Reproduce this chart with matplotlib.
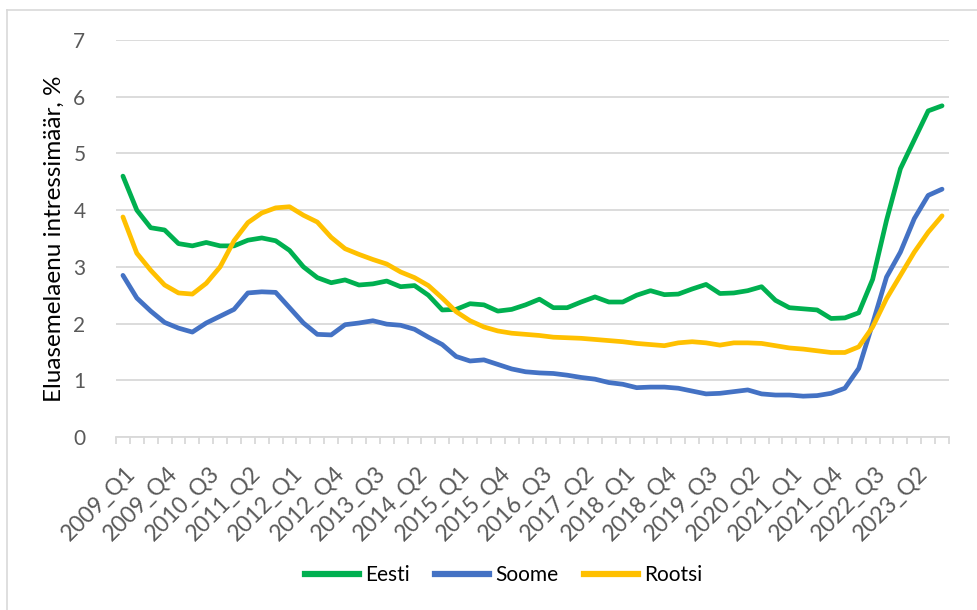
import matplotlib
matplotlib.use("Agg")
import matplotlib.pyplot as plt
from matplotlib.lines import Line2D
from matplotlib.transforms import ScaledTranslation
import numpy as np

years = list(range(2009, 2024))
quarters = ["Q1", "Q2", "Q3", "Q4"]
categories = [f"{y}_{q}" for y in years for q in quarters]

eesti = [4.60, 4.00, 3.69, 3.65, 3.41, 3.37, 3.43, 3.37, 3.37, 3.47,
         3.51, 3.46, 3.29, 3.00, 2.81, 2.72, 2.77, 2.68, 2.70, 2.75,
         2.65, 2.67, 2.50, 2.24, 2.25, 2.35, 2.33, 2.22, 2.25, 2.33,
         2.43, 2.28, 2.28, 2.38, 2.47, 2.38, 2.38, 2.50, 2.58, 2.51,
         2.52, 2.61, 2.69, 2.53, 2.54, 2.58, 2.65, 2.41, 2.28, 2.26,
         2.24, 2.09, 2.10, 2.19, 2.78, 3.82, 4.73, 5.24, 5.75, 5.84]
soome = [2.85, 2.45, 2.22, 2.02, 1.92, 1.85, 2.01, 2.13, 2.25, 2.54,
         2.56, 2.55, 2.28, 2.01, 1.81, 1.80, 1.98, 2.01, 2.05, 1.99,
         1.97, 1.90, 1.76, 1.63, 1.42, 1.34, 1.36, 1.28, 1.20, 1.15,
         1.13, 1.12, 1.09, 1.05, 1.02, 0.96, 0.93, 0.87, 0.88, 0.88,
         0.86, 0.81, 0.76, 0.77, 0.80, 0.83, 0.76, 0.74, 0.74, 0.72,
         0.73, 0.77, 0.86, 1.21, 2.00, 2.82, 3.26, 3.85, 4.26, 4.37]
rootsi = [3.88, 3.24, 2.94, 2.68, 2.54, 2.52, 2.71, 3.00, 3.46, 3.78,
          3.95, 4.04, 4.06, 3.91, 3.79, 3.52, 3.32, 3.22, 3.13, 3.05,
          2.91, 2.81, 2.67, 2.45, 2.21, 2.05, 1.94, 1.87, 1.83, 1.81,
          1.79, 1.76, 1.75, 1.74, 1.72, 1.70, 1.68, 1.65, 1.63, 1.61,
          1.66, 1.68, 1.66, 1.62, 1.66, 1.66, 1.65, 1.61, 1.57, 1.55,
          1.52, 1.49, 1.49, 1.59, 1.94, 2.44, 2.85, 3.26, 3.61, 3.90]

series_names = ["Eesti", "Soome", "Rootsi"]
colors = ["#00B050", "#4472C4", "#FFC000"]
ylabel = "Eluasemelaenu intressimäär, %"

plt.rcParams["font.family"] = ["Lato", "DejaVu Sans"]

fig = plt.figure(figsize=(9.78, 6.10), dpi=100)
ax = fig.add_axes([116/978, 1-437/610, (949-116)/978, (437-40)/610])

x = np.arange(len(categories))
for vals, c, name in zip([eesti, soome, rootsi], colors, series_names):
    ax.plot(x, vals, color=c, lw=3.4, solid_capstyle="round",
            solid_joinstyle="round", label=name, zorder=3)

ax.set_xlim(-0.5, len(categories) - 0.5)
ax.set_ylim(0, 7)
ax.set_yticks(range(0, 8))
ax.grid(axis="y", color="#D9D9D9", lw=1.3, zorder=0)
ax.set_axisbelow(True)
for s in ["top", "right", "left"]:
    ax.spines[s].set_visible(False)
ax.spines["bottom"].set_color("#D9D9D9")
ax.spines["bottom"].set_linewidth(1.3)

ax.tick_params(axis="y", length=0, pad=22, labelsize=15, labelcolor="#595959")
major = x[::3]
ax.set_xticks(major)
ax.set_xticklabels([categories[i] for i in major], rotation=45, ha="right",
                   va="top", rotation_mode="anchor", fontsize=16.5, color="#595959")
ax.tick_params(axis="x", which="major", length=0, pad=18)
ax.set_xticks(np.arange(-0.5, len(categories), 1.0), minor=True)
ax.tick_params(axis="x", which="minor", length=5, width=1.3, color="#D9D9D9")
off = ScaledTranslation(2/100, 0, fig.dpi_scale_trans)
for lab in ax.get_xticklabels():
    lab.set_transform(lab.get_transform() + off)

ax.set_ylabel(ylabel, fontsize=17.5, color="black", labelpad=6)

handles = [Line2D([0], [0], color=c, lw=4.5) for c in colors]
fig.legend(handles, series_names, loc="center", bbox_to_anchor=(0.515, 1-575/610),
           ncol=3, frameon=False, fontsize=15, handlelength=2.6,
           handletextpad=0.3, columnspacing=1.2)

fig.add_artist(Line2D([7/978, 7/978], [0, 1-10/610], color="#D9D9D9", lw=1.2))
fig.add_artist(Line2D([7/978, 1], [1-10/610, 1-10/610], color="#D9D9D9", lw=1.2))

fig.savefig("out.png", dpi=100)
